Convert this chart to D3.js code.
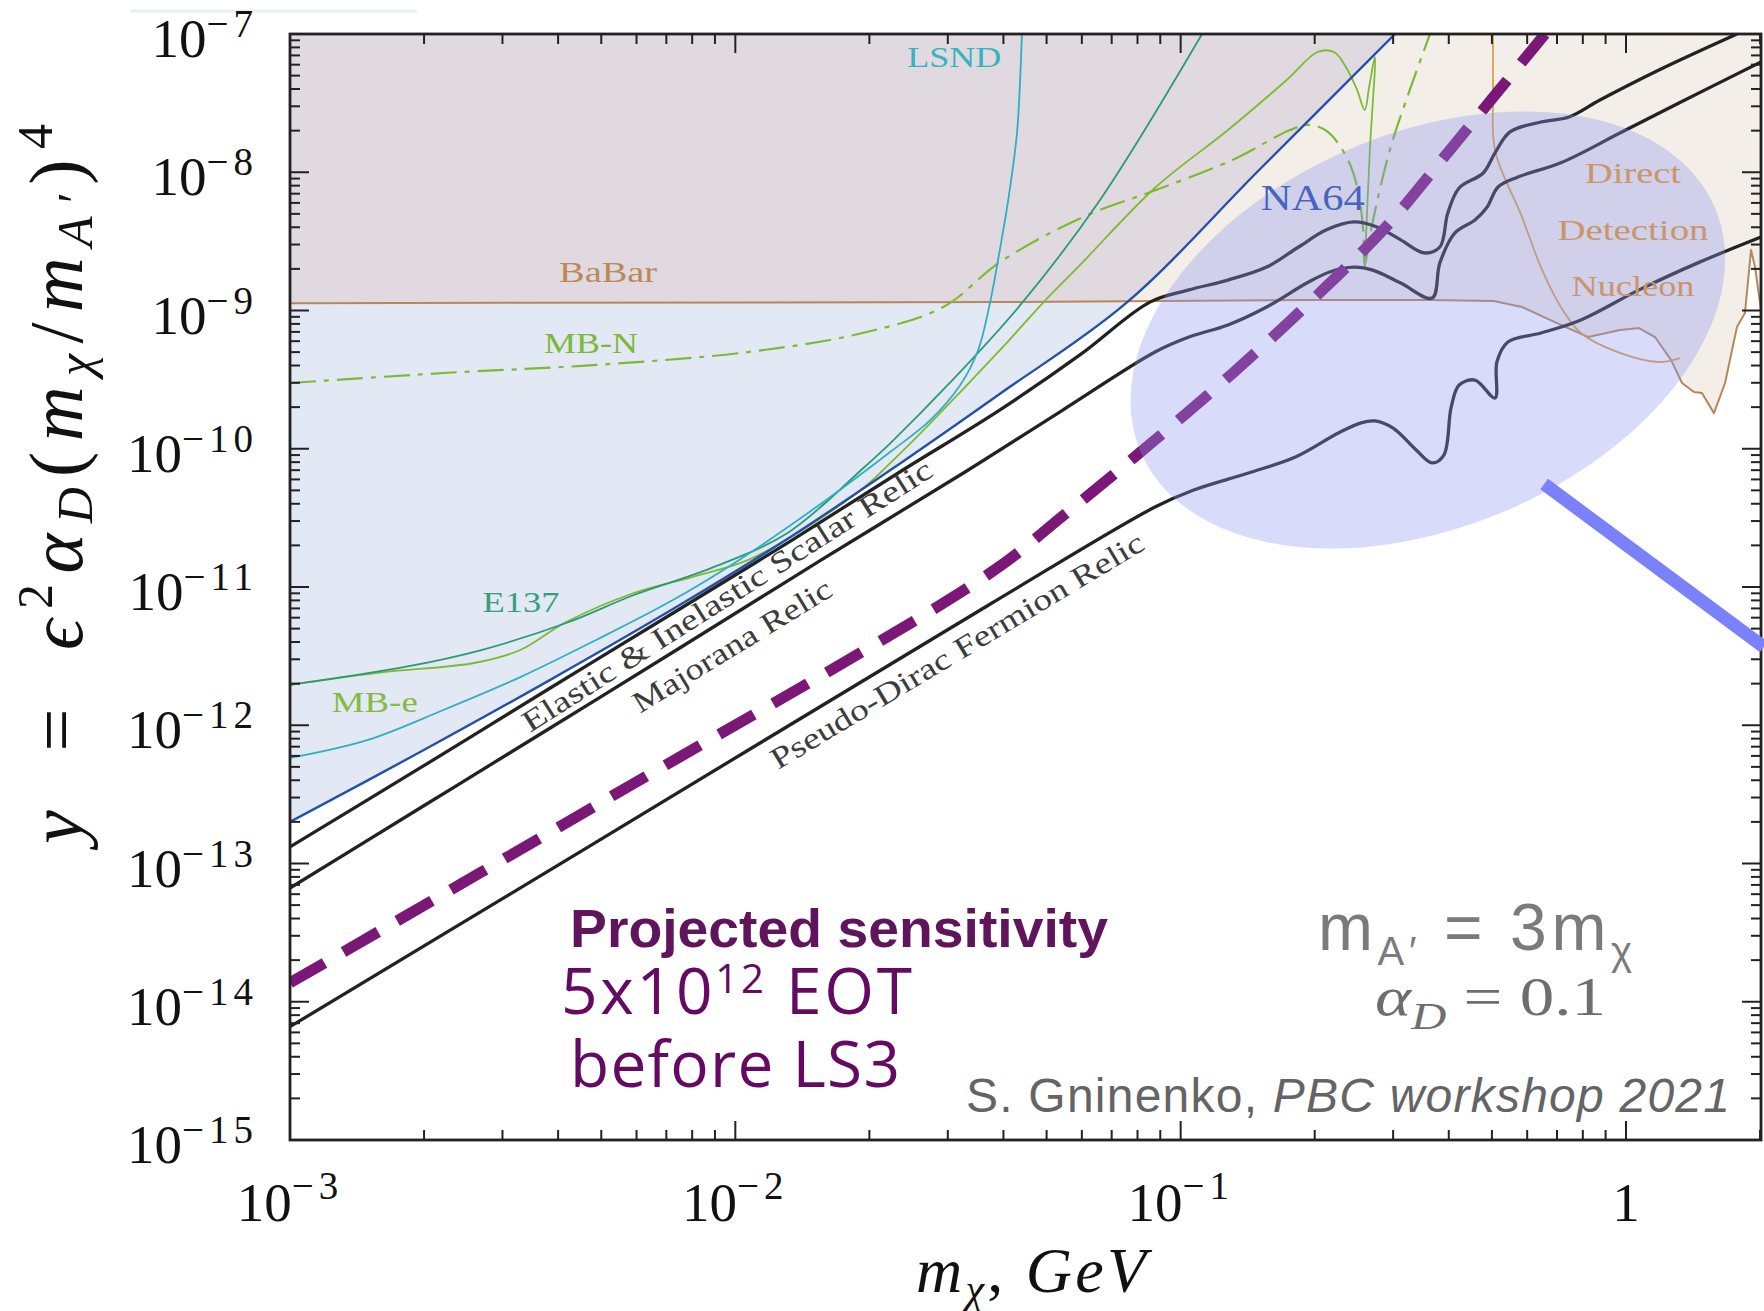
<!DOCTYPE html>
<html>
<head>
<meta charset="utf-8">
<script src="https://cdn.jsdelivr.net/npm/d3@7"></script>
<style>
  html, body { margin: 0; padding: 0; background: #fff; }
  svg { display: block; }
</style>
</head>
<body>
<div id="chart"></div>
<script>
const xTickValues = [1e-3, 1e-2, 1e-1, 1];
const xTickExponents = ["−3", "−2", "−1", null];
const yTickValues = [1e-7, 1e-8, 1e-9, 1e-10, 1e-11, 1e-12, 1e-13, 1e-14, 1e-15];
const yTickExponents = ["−7", "−8", "−9", "−10", "−11", "−12", "−13", "−14", "−15"];

// every curve is [m_chi in GeV, y]
const babar = [[0.001,1.13e-9],[0.0393,1.15e-9],[0.185,1.19e-9],[0.367,1.19e-9],[0.505,1.17e-9],[0.584,1.06e-9],[0.714,7.86e-10],[0.822,6.43e-10],[0.969,7.23e-10],[1.07,7.47e-10],[1.162,6.43e-10],[1.262,4.39e-10],[1.336,2.99e-10],[1.421,2.57e-10],[1.481,2.53e-10],[1.576,1.81e-10],[1.669,2.99e-10],[1.775,7.6e-10],[1.85,9.59e-10],[1.909,2.74e-9],[1.949,2.06e-9],[2.01,1.01e-9]];

const directDetection = [[0.503,1e-7],[0.503,3.94e-8],[0.508,1.45e-8],[0.584,4.75e-9],[0.644,2.06e-9],[0.714,1.06e-9],[0.792,6.87e-10],[0.969,4.93e-10],[1.186,4.24e-10],[1.322,4.53e-10]];

const na64 = [[0.001,2.0e-13],[0.00196,6.4e-13],[0.00384,2.13e-12],[0.0075,7.4e-12],[0.0133,2.3e-11],[0.0234,7.8e-11],[0.0393,2.5e-10],[0.0754,1.13e-9],[0.151,1.06e-8],[0.303,1e-7]];

const lsnd = [[0.001,5.8e-13],[0.00149,7.8e-13],[0.00221,1.29e-12],[0.00329,2.23e-12],[0.00487,4.14e-12],[0.00724,8.05e-12],[0.0102,1.57e-11],[0.016,4.26e-11],[0.0223,9.5e-11],[0.0274,1.61e-10],[0.032,2.89e-10],[0.0351,5.18e-10],[0.0373,1.13e-9],[0.0389,2.32e-9],[0.041,6.3e-9],[0.0429,1.92e-8],[0.0436,4.65e-8],[0.044,1e-7]];

const e137 = [[0.001,1.96e-12],[0.00181,2.64e-12],[0.00269,3.5e-12],[0.00417,5.49e-12],[0.00592,8.75e-12],[0.00882,1.37e-11],[0.0131,2.46e-11],[0.0195,7.38e-11],[0.0223,1.1e-10],[0.0303,2.99e-10],[0.044,1.13e-9],[0.0659,6.3e-9],[0.1117,1e-7]];

const mbE = [[0.001,1.96e-12],[0.00164,2.43e-12],[0.00259,2.82e-12],[0.00329,3.5e-12],[0.00417,5.58e-12],[0.00592,9.05e-12],[0.008,1.18e-11],[0.0107,1.57e-11],[0.0145,2.72e-11],[0.0195,5.29e-11],[0.0223,7.9e-11],[0.0269,1.44e-10],[0.0399,5.45e-10],[0.0486,1.1e-9],[0.0594,2.13e-9],[0.088,7.82e-9],[0.1277,2.02e-8],[0.173,4.65e-8],[0.203,7.41e-8],[0.221,7.41e-8],[0.235,5.77e-8],[0.249,3.94e-8],[0.259,2.82e-8],[0.265,4.14e-8],[0.273,6.82e-8],[0.266,1.45e-8],[0.259,2.06e-9]];

const mbN = [[0.001,2.99e-10],[0.00221,3.53e-10],[0.00487,4.04e-10],[0.0107,5.01e-10],[0.0193,6.87e-10],[0.0293,1.06e-9],[0.0393,2.24e-9],[0.0604,4.75e-9],[0.088,7.44e-9],[0.131,1.23e-8],[0.176,2.02e-8],[0.194,2.2e-8],[0.214,1.96e-8],[0.2375,1.23e-8],[0.25,7.44e-9],[0.257,3.82e-9],[0.259,2.13e-9],[0.269,4.15e-9],[0.295,1.45e-8],[0.327,3.94e-8],[0.363,1e-7]];

const elasticRelic = [[0.001,1.32e-13],[0.00196,4.91e-13],[0.00384,1.86e-12],[0.0075,6.93e-12],[0.0133,2.15e-11],[0.0234,6.79e-11],[0.0393,1.91e-10],[0.0594,4.77e-10],[0.0853,1.15e-9],[0.1044,1.41e-9],[0.1277,1.66e-9],[0.156,2.06e-9],[0.184,2.88e-9],[0.212,3.82e-9],[0.245,4.37e-9],[0.276,4.02e-9],[0.312,3.24e-9],[0.352,2.61e-9],[0.382,2.88e-9],[0.398,5.07e-9],[0.422,7.69e-9],[0.478,9.88e-9],[0.508,1.38e-8],[0.549,1.96e-8],[0.644,2.31e-8],[0.745,2.51e-8],[0.874,3.33e-8],[1.186,5.49e-8],[1.775,1e-7]];

const majoranaRelic = [[0.001,6.65e-14],[0.00196,2.52e-13],[0.00384,9.55e-13],[0.0075,3.62e-12],[0.0156,1.57e-11],[0.0328,6.79e-11],[0.0536,1.85e-10],[0.0876,5.01e-10],[0.1044,6.43e-10],[0.1277,7.86e-10],[0.156,1.06e-9],[0.192,1.58e-9],[0.216,1.9e-9],[0.245,2.06e-9],[0.27,1.96e-9],[0.312,1.58e-9],[0.367,1.23e-9],[0.382,2.21e-9],[0.413,3.64e-9],[0.458,4.52e-9],[0.488,5.61e-9],[0.516,7.82e-9],[0.572,9.24e-9],[0.714,1.17e-8],[0.969,1.92e-8],[1.315,3.17e-8],[2.01,6.27e-8]];

const pseudoDiracRelic = [[0.001,6.6e-15],[0.00484,1.41e-13],[0.0373,7.5e-12],[0.0876,3.79e-11],[0.107,5.03e-11],[0.142,6.68e-11],[0.181,8.71e-11],[0.226,1.3e-10],[0.254,1.54e-10],[0.273,1.59e-10],[0.3,1.41e-10],[0.338,9.8e-11],[0.367,7.9e-11],[0.39,9.0e-11],[0.405,2.0e-10],[0.422,2.89e-10],[0.458,3.14e-10],[0.508,2.33e-10],[0.513,4.24e-10],[0.543,5.92e-10],[0.644,6.87e-10],[0.792,8.54e-10],[1.07,1.41e-9],[1.45,2.21e-9],[2.01,3.4e-9]];

const projected = [[0.001,1.37e-14],[0.00502,2.79e-13],[0.0373,1.26e-11],[0.0547,3.32e-11],[0.0798,9.0e-11],[0.131,3.53e-10],[0.194,1.13e-9],[0.289,4.02e-9],[0.4025,1.45e-8],[0.4975,3.33e-8],[0.658,1e-7]];

const curveLabels = [
  ["LSND", 0.031, 5.77e-8],
  ["BaBar", 0.00518, 1.61e-9],
  ["MB-N", 0.00474, 4.93e-10],
  ["E137", 0.0033, 6.6e-12],
  ["MB-e", 0.00155, 1.25e-12],
  ["NA64", 0.198, 5.33e-9],
  ["Direct", 1.037, 8.36e-9],
  ["Detection", 1.037, 3.24e-9],
  ["Nucleon", 1.037, 1.27e-9]
];

const relicLabels = [
  ["Elastic & Inelastic Scalar Relic", 0.00346, 8.79e-13],
  ["Majorana Relic", 0.00611, 1.21e-12],
  ["Pseudo-Dirac Fermion Relic", 0.01247, 4.75e-13]
];

const highlightCenter = [0.359, 7.23e-10];
const pointer = [[0.655, 5.56e-11], [2.04, 3.68e-12]];

function render(el) {
  const width = 1764, height = 1311;
  const frame = { left: 290, right: 1761, top: 34, bottom: 1140 };
  const serif = "'Liberation Serif', 'DejaVu Serif', serif";
  const sans = "'Liberation Sans', Arial, sans-serif";

  const svg = d3.select(el)
    .append("svg")
    .attr("width", width)
    .attr("height", height)
    .style("background", "#fff");

  const x = d3.scaleLog().domain([1e-3, 2.01]).range([frame.left, frame.right]);
  const y = d3.scaleLog().domain([1e-15, 1e-7]).range([frame.bottom, frame.top]);
  const [xMin, xMax] = x.domain();
  const [yMin, yMax] = y.domain();

  const smooth = d3.line().x(d => x(d[0])).y(d => y(d[1])).curve(d3.curveCatmullRom.alpha(0.5));
  const straight = d3.line().x(d => x(d[0])).y(d => y(d[1]));

  // faint scan artefact above the frame
  svg.append("line")
    .attr("x1", 130).attr("x2", 417).attr("y1", 11).attr("y2", 11)
    .attr("stroke", "#eceef5").attr("stroke-width", 3);

  const defs = svg.append("defs");
  defs.append("clipPath").attr("id", "plot-clip")
    .append("rect")
    .attr("x", frame.left).attr("y", frame.top)
    .attr("width", frame.right - frame.left)
    .attr("height", frame.bottom - frame.top);

  const babarRegion = straight([...babar, [xMax, yMax], [xMin, yMax]]) + "Z";
  const na64Region = smooth(na64) + `L${x(xMin)},${y(yMax)}Z`;
  defs.append("clipPath").attr("id", "babar-clip").append("path").attr("d", babarRegion);

  const plot = svg.append("g").attr("clip-path", "url(#plot-clip)");

  plot.append("path").attr("d", babarRegion).attr("fill", "#f3efe8");
  plot.append("path").attr("d", na64Region).attr("fill", "#e2e8f4");
  plot.append("g").attr("clip-path", "url(#babar-clip)")
    .append("path").attr("d", na64Region).attr("fill", "#e0dae0");

  const curves = [
    { data: babar, stroke: "#b5885c", width: 2, gen: straight },
    { data: directDetection, stroke: "#dba04c", width: 1.8 },
    { data: mbN, stroke: "#7dba34", width: 2.2, dash: "26,8,5,8" },
    { data: mbE, stroke: "#7dba34", width: 1.8 },
    { data: e137, stroke: "#2c9a74", width: 1.8 },
    { data: lsnd, stroke: "#2eb0bf", width: 1.8 },
    { data: na64, stroke: "#2450a8", width: 2.4 },
    { data: elasticRelic, stroke: "#222", width: 3.3 },
    { data: majoranaRelic, stroke: "#222", width: 3.3 },
    { data: pseudoDiracRelic, stroke: "#222", width: 3.3 },
    { data: projected, stroke: "#7b1877", width: 11, dash: "40,22" }
  ];

  plot.selectAll("path.curve")
    .data(curves)
    .enter()
    .append("path")
    .attr("class", "curve")
    .attr("d", d => (d.gen || smooth)(d.data))
    .attr("fill", "none")
    .attr("stroke", d => d.stroke)
    .attr("stroke-width", d => d.width)
    .attr("stroke-dasharray", d => d.dash || null)
    .attr("stroke-linejoin", "round");

  // frame and inward ticks
  const isMajor = v => Math.abs(Math.log10(v) - Math.round(Math.log10(v))) < 1e-6;
  const ticks = svg.append("g").attr("stroke", "#222").attr("stroke-width", 2);
  x.ticks().filter(v => v >= xMin && v <= xMax).forEach(v => {
    const len = isMajor(v) ? 19 : 10;
    ticks.append("line").attr("x1", x(v)).attr("x2", x(v)).attr("y1", frame.bottom).attr("y2", frame.bottom - len);
    ticks.append("line").attr("x1", x(v)).attr("x2", x(v)).attr("y1", frame.top).attr("y2", frame.top + len);
  });
  y.ticks().filter(v => v >= yMin && v <= yMax).forEach(v => {
    const len = isMajor(v) ? 19 : 10;
    ticks.append("line").attr("x1", frame.left).attr("x2", frame.left + len).attr("y1", y(v)).attr("y2", y(v));
    ticks.append("line").attr("x1", frame.right).attr("x2", frame.right - len).attr("y1", y(v)).attr("y2", y(v));
  });
  svg.append("rect")
    .attr("x", frame.left).attr("y", frame.top)
    .attr("width", frame.right - frame.left).attr("height", frame.bottom - frame.top)
    .attr("fill", "none").attr("stroke", "#222").attr("stroke-width", 2.8);

  // highlighted ellipse over the curves
  svg.append("ellipse")
    .attr("transform", `translate(${x(highlightCenter[0])},${y(highlightCenter[1])}) rotate(-23)`)
    .attr("rx", 312)
    .attr("ry", 197)
    .attr("fill", "rgb(140,150,240)")
    .attr("fill-opacity", 0.34);

  // curve labels
  const labelStyle = {
    "LSND": { fill: "#35b3be", size: 30, length: 94 },
    "BaBar": { fill: "#b98a58", size: 30, length: 98 },
    "MB-N": { fill: "#7db83a", size: 30, length: 94 },
    "E137": { fill: "#34a07b", size: 30, length: 77 },
    "MB-e": { fill: "#85bb3f", size: 30, length: 86 },
    "NA64": { fill: "#4565c0", size: 36, length: 104 },
    "Direct": { fill: "#c9956a", size: 29, length: 96 },
    "Detection": { fill: "#c9956a", size: 29, length: 151 },
    "Nucleon": { fill: "#c9956a", size: 29, length: 123 }
  };
  svg.selectAll("text.curve-label")
    .data(curveLabels)
    .enter()
    .append("text")
    .attr("class", "curve-label")
    .attr("x", d => x(d[1]) - labelStyle[d[0]].length / 2)
    .attr("y", d => y(d[2]))
    .attr("textLength", d => labelStyle[d[0]].length)
    .attr("lengthAdjust", "spacingAndGlyphs")
    .attr("fill", d => labelStyle[d[0]].fill)
    .style("font-family", serif)
    .style("font-size", d => labelStyle[d[0]].size + "px")
    .text(d => d[0]);

  const relicStyle = [
    { angle: -32.5, length: 480 },
    { angle: -31.5, length: 228 },
    { angle: -31, length: 430 }
  ];
  svg.selectAll("text.relic-label")
    .data(relicLabels)
    .enter()
    .append("text")
    .attr("class", "relic-label")
    .attr("x", d => x(d[1]))
    .attr("y", d => y(d[2]))
    .attr("transform", (d, i) => `rotate(${relicStyle[i].angle},${x(d[1])},${y(d[2])})`)
    .attr("textLength", (d, i) => relicStyle[i].length)
    .attr("lengthAdjust", "spacingAndGlyphs")
    .attr("fill", "#3c3c3c")
    .style("font-family", serif)
    .style("font-size", "30px")
    .text(d => d[0]);

  svg.append("line")
    .attr("x1", x(pointer[0][0])).attr("y1", y(pointer[0][1]))
    .attr("x2", x(pointer[1][0])).attr("y2", y(pointer[1][1]))
    .attr("stroke", "#7b80fb")
    .attr("stroke-width", 13);

  // tick labels
  yTickValues.forEach((v, i) => {
    const t = svg.append("text")
      .attr("x", frame.left - 32)
      .attr("y", y(v) + 23)
      .attr("text-anchor", "end")
      .attr("fill", "#111")
      .style("font-family", serif)
      .style("font-size", "55px");
    t.append("tspan").text("10");
    t.append("tspan").attr("dy", -20).style("font-size", "39px").style("letter-spacing", "5px").text(yTickExponents[i]);
  });

  xTickValues.forEach((v, i) => {
    const t = svg.append("text")
      .attr("x", x(v))
      .attr("y", 1221)
      .attr("text-anchor", "middle")
      .attr("fill", "#111")
      .style("font-family", serif)
      .style("font-size", "55px");
    if (xTickExponents[i]) {
      t.append("tspan").text("10");
      t.append("tspan").attr("dy", -22).style("font-size", "39px").style("letter-spacing", "5px").text(xTickExponents[i]);
    } else {
      t.append("tspan").text("1");
    }
  });

  // axis titles
  const xTitle = svg.append("text")
    .attr("x", 916).attr("y", 1292)
    .attr("textLength", 230)
    .attr("lengthAdjust", "spacing")
    .attr("fill", "#111")
    .style("font-family", serif)
    .style("font-style", "italic")
    .style("font-size", "64px");
  xTitle.append("tspan").text("m");
  xTitle.append("tspan").attr("dy", 11).style("font-size", "42px").text("χ");
  xTitle.append("tspan").attr("dy", -11).style("font-style", "normal").text(", ");
  xTitle.append("tspan").text("GeV");

  const yTitle = svg.append("text")
    .attr("transform", "translate(82,484) rotate(-90)")
    .attr("text-anchor", "middle")
    .attr("textLength", 720)
    .attr("lengthAdjust", "spacing")
    .attr("fill", "#111")
    .style("font-family", serif)
    .style("font-style", "italic")
    .style("font-size", "76px");
  yTitle.append("tspan").text("y");
  yTitle.append("tspan").style("font-style", "normal").text("\u2002=\u2002");
  yTitle.append("tspan").text("ϵ");
  yTitle.append("tspan").attr("dy", -30).style("font-size", "50px").style("font-style", "normal").text("2");
  yTitle.append("tspan").attr("dy", 30).text("α");
  yTitle.append("tspan").attr("dy", 10).style("font-size", "50px").text("D");
  yTitle.append("tspan").attr("dy", -10).style("font-style", "normal").text("(");
  yTitle.append("tspan").text("m");
  yTitle.append("tspan").attr("dy", 10).style("font-size", "50px").text("χ");
  yTitle.append("tspan").attr("dy", -10).style("font-style", "normal").text("/");
  yTitle.append("tspan").text("m");
  yTitle.append("tspan").attr("dy", 10).style("font-size", "50px").text("A′");
  yTitle.append("tspan").attr("dy", -10).style("font-style", "normal").text(")");
  yTitle.append("tspan").attr("dy", -30).style("font-size", "50px").style("font-style", "normal").text("4");

  // annotations
  svg.append("text")
    .attr("x", 570).attr("y", 947)
    .attr("textLength", 538)
    .attr("lengthAdjust", "spacingAndGlyphs")
    .attr("fill", "#5f145b")
    .style("font-family", "'Liberation Sans Narrow', 'Liberation Sans', sans-serif")
    .style("font-weight", "bold")
    .style("font-size", "54px")
    .text("Projected sensitivity");

  const eot = svg.append("text")
    .attr("x", 561).attr("y", 1014)
    .attr("textLength", 351)
    .attr("fill", "#650a62")
    .style("font-family", "'Open Sans', 'Noto Sans', sans-serif")
    .style("font-weight", 500)
    .style("font-size", "64px");
  eot.append("tspan").text("5x10");
  eot.append("tspan").attr("dy", -21).style("font-size", "40px").text("12");
  eot.append("tspan").attr("dy", 21).text(" EOT");

  svg.append("text")
    .attr("x", 570).attr("y", 1087)
    .attr("textLength", 330)
    .attr("fill", "#650a62")
    .style("font-family", "'Open Sans', 'Noto Sans', sans-serif")
    .style("font-weight", 500)
    .style("font-size", "64px")
    .text("before LS3");

  const mA = svg.append("text")
    .attr("x", 1318).attr("y", 950)
    .attr("textLength", 314)
    .attr("fill", "#7b7b7b")
    .style("font-family", sans)
    .style("font-size", "66px");
  mA.append("tspan").text("m");
  mA.append("tspan").attr("dy", 15).style("font-size", "40px").text("A′");
  mA.append("tspan").attr("dy", -15).text(" = 3m");
  mA.append("tspan").attr("dy", 15).style("font-size", "40px").text("χ");

  const alpha = svg.append("text")
    .attr("x", 1375).attr("y", 1015)
    .attr("textLength", 231)
    .attr("lengthAdjust", "spacingAndGlyphs")
    .attr("fill", "#6e6e6e")
    .style("font-family", serif)
    .style("font-size", "54px");
  alpha.append("tspan").style("font-style", "italic").text("α");
  alpha.append("tspan").attr("dy", 14).style("font-style", "italic").style("font-size", "38px").text("D");
  alpha.append("tspan").attr("dy", -14).text(" = 0.1");

  const credit = svg.append("text")
    .attr("x", 966).attr("y", 1112)
    .attr("textLength", 764)
    .attr("fill", "#646464")
    .style("font-family", sans)
    .style("font-size", "48px");
  credit.append("tspan").text("S. Gninenko, ");
  credit.append("tspan").style("font-style", "italic").text("PBC workshop 2021");
}

render(document.getElementById("chart"));
</script>
</body>
</html>
